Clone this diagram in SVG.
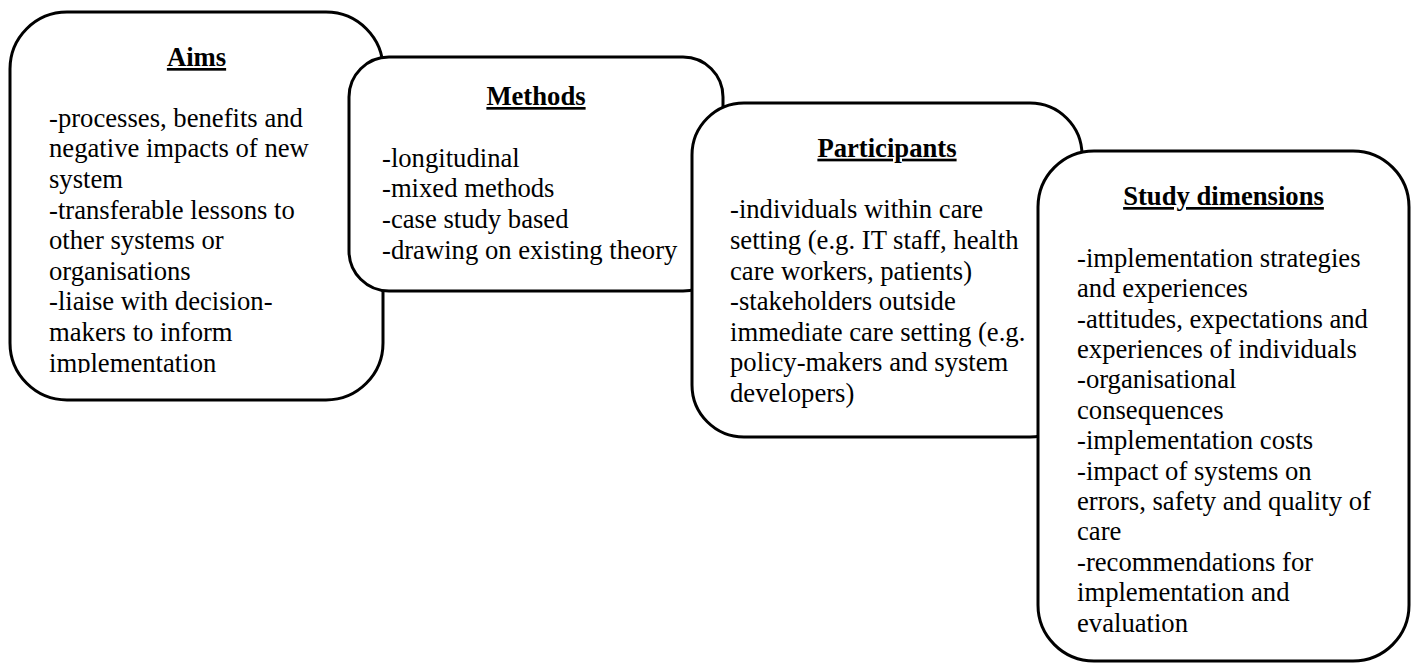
<svg xmlns="http://www.w3.org/2000/svg" width="1416" height="664" viewBox="0 0 1416 664">
<defs>
<style>
.box{fill:#fff;stroke:#000;stroke-width:3}
.h{font-family:"Liberation Serif","Times New Roman",serif;font-size:26.67px;font-weight:bold;text-decoration:underline;text-anchor:middle;fill:#000}
.t{font-family:"Liberation Serif","Times New Roman",serif;font-size:26.67px;fill:#000}
</style>
<clipPath id="aimsClip"><rect x="10" y="80" width="370" height="293"/></clipPath>
</defs>
<rect width="1416" height="664" fill="#fff"/>
<g id="aims">
<rect class="box" x="10" y="12" width="373" height="388" rx="57" ry="57"/>
<text class="h" x="196.5" y="66">Aims</text>
<g clip-path="url(#aimsClip)">
<text class="t" x="49" y="126.7"><tspan x="49">-processes, benefits and</tspan><tspan x="49" dy="30.6">negative impacts of new</tspan><tspan x="49" dy="30.6">system</tspan><tspan x="49" dy="30.6">-transferable lessons to</tspan><tspan x="49" dy="30.6">other systems or</tspan><tspan x="49" dy="30.6">organisations</tspan><tspan x="49" dy="30.6">-liaise with decision-</tspan><tspan x="49" dy="30.6">makers to inform</tspan><tspan x="49" dy="30.6">implementation</tspan></text>
</g>
</g>
<g id="methods">
<rect class="box" x="349" y="57" width="374" height="234" rx="40" ry="40"/>
<text class="h" x="536" y="105">Methods</text>
<text class="t" x="382" y="166.7"><tspan x="382">-longitudinal</tspan><tspan x="382" dy="30.6">-mixed methods</tspan><tspan x="382" dy="30.6">-case study based</tspan><tspan x="382" dy="30.6">-drawing on existing theory</tspan></text>
</g>
<g id="participants">
<rect class="box" x="692" y="103" width="390" height="334" rx="52" ry="52"/>
<text class="h" x="887" y="156.7">Participants</text>
<text class="t" x="730" y="218.3"><tspan x="730">-individuals within care</tspan><tspan x="730" dy="30.6">setting (e.g. IT staff, health</tspan><tspan x="730" dy="30.6">care workers, patients)</tspan><tspan x="730" dy="30.6">-stakeholders outside</tspan><tspan x="730" dy="30.6">immediate care setting (e.g.</tspan><tspan x="730" dy="30.6">policy-makers and system</tspan><tspan x="730" dy="30.6">developers)</tspan></text>
</g>
<g id="study-dimensions">
<rect class="box" x="1038" y="151" width="371" height="510" rx="56" ry="56"/>
<text class="h" x="1223.5" y="205">Study dimensions</text>
<text class="t" x="1077" y="266.7"><tspan x="1077">-implementation strategies</tspan><tspan x="1077" dy="30.4">and experiences</tspan><tspan x="1077" dy="30.4">-attitudes, expectations and</tspan><tspan x="1077" dy="30.4">experiences of individuals</tspan><tspan x="1077" dy="30.4">-organisational</tspan><tspan x="1077" dy="30.4">consequences</tspan><tspan x="1077" dy="30.4">-implementation costs</tspan><tspan x="1077" dy="30.4">-impact of systems on</tspan><tspan x="1077" dy="30.4">errors, safety and quality of</tspan><tspan x="1077" dy="30.4">care</tspan><tspan x="1077" dy="30.4">-recommendations for</tspan><tspan x="1077" dy="30.4">implementation and</tspan><tspan x="1077" dy="30.4">evaluation</tspan></text>
</g>
</svg>
